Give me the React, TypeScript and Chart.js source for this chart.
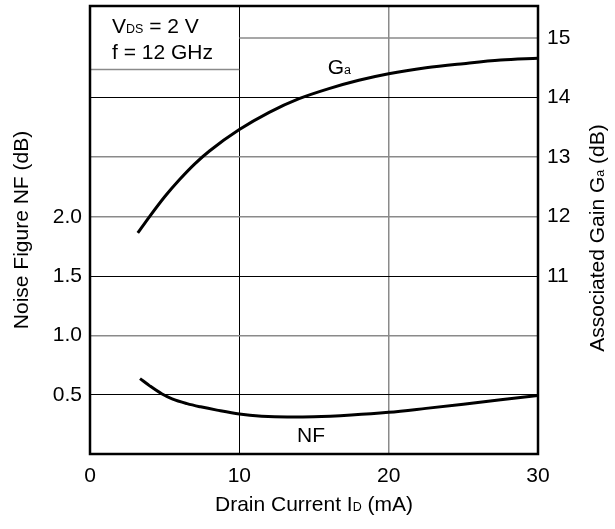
import React, { useEffect, useRef } from "react";
import { Chart, registerables } from "chart.js";
Chart.register(...registerables);

// Data
const currentGa = [3.2, 4, 5, 6, 7, 8, 10, 12, 14, 16, 18, 20, 22.5, 25, 27.5, 30];
const gainGa = [11.72, 12.0, 12.33, 12.62, 12.88, 13.1, 13.46, 13.75, 13.98, 14.15, 14.29, 14.4, 14.5, 14.57, 14.63, 14.66];
const currentNF = [3.35, 4, 4.8, 5.5, 6.5, 7.4, 8.5, 10, 11.5, 13.2, 15, 17.5, 20, 22.5, 25, 27.5, 30];
const noiseNF = [0.636, 0.575, 0.508, 0.465, 0.425, 0.398, 0.37, 0.337, 0.319, 0.312, 0.314, 0.329, 0.352, 0.385, 0.42, 0.457, 0.494];

const xTicks = [0, 10, 20, 30];
const nfTicks = [0.5, 1.0, 1.5, 2.0];
const gaTicks = [11, 12, 13, 14, 15];

const X_MIN = 0, X_MAX = 30;
const NF_MIN = 0, NF_MAX = 3.78;
const GA_MIN = 8, GA_MAX = 15.54;
const LEGEND_BOX_GA = 14.47;

const FONT = "Liberation Sans, Arial, Helvetica, sans-serif";
const MAIN = 21;
const SUB = 12.5;
const BLACK = "#000";
const GRAY = "#8a8a8a";

type Part = [string, boolean];

function drawRich(ctx: CanvasRenderingContext2D, parts: Part[], x: number, y: number, rot = 0) {
  ctx.save();
  ctx.translate(x, y);
  ctx.rotate(rot);
  ctx.textBaseline = "alphabetic";
  ctx.textAlign = "left";
  let total = 0;
  const widths = parts.map(([t, s]) => {
    ctx.font = `${s ? SUB : MAIN}px ${FONT}`;
    const w = ctx.measureText(t).width;
    total += w;
    return w;
  });
  let cx = -total / 2;
  parts.forEach(([t, s], i) => {
    ctx.font = `${s ? SUB : MAIN}px ${FONT}`;
    ctx.fillStyle = BLACK;
    ctx.fillText(t, cx, 7);
    cx += widths[i];
  });
  ctx.restore();
}

function drawRichLeft(ctx: CanvasRenderingContext2D, parts: Part[], x: number, y: number) {
  ctx.save();
  ctx.textBaseline = "alphabetic";
  ctx.textAlign = "left";
  let cx = x;
  parts.forEach(([t, s]) => {
    ctx.font = `${s ? SUB : MAIN}px ${FONT}`;
    ctx.fillStyle = BLACK;
    ctx.fillText(t, cx, y);
    cx += ctx.measureText(t).width;
  });
  ctx.restore();
}

const decor = {
  id: "decor",
  afterDatasetsDraw(chart: any) {
    const { ctx, chartArea: a, scales } = chart;
    const xs = scales.x, yl = scales.yNF, yr = scales.yGa;
    ctx.save();
    ctx.strokeStyle = GRAY;
    ctx.lineWidth = 1.5;
    const y15 = yr.getPixelForValue(15);
    ctx.beginPath();
    ctx.moveTo(xs.getPixelForValue(10), y15);
    ctx.lineTo(a.right, y15);
    ctx.stroke();
    const yb = yr.getPixelForValue(LEGEND_BOX_GA);
    ctx.beginPath();
    ctx.moveTo(a.left, yb);
    ctx.lineTo(xs.getPixelForValue(10), yb);
    ctx.stroke();
    ctx.strokeStyle = BLACK;
    ctx.lineWidth = 2.5;
    ctx.strokeRect(a.left, a.top, a.right - a.left, a.bottom - a.top);
    ctx.restore();

    drawRichLeft(ctx, [["V", false], ["DS", true], [" = 2 V", false]], a.left + 22, a.top + 27);
    drawRichLeft(ctx, [["f = 12 GHz", false]], a.left + 22, a.top + 53);
    drawRich(ctx, [["G", false], ["a", true]], xs.getPixelForValue(16.7), yr.getPixelForValue(14.45) - 4);
    drawRich(ctx, [["NF", false]], xs.getPixelForValue(14.8), yl.getPixelForValue(0.13) - 4);
    const cxm = (a.left + a.right) / 2;
    const cym = (a.top + a.bottom) / 2;
    drawRich(ctx, [["Drain Current I", false], ["D", true], [" (mA)", false]], cxm, a.bottom + 50);
    drawRich(ctx, [["Noise Figure NF (dB)", false]], 21, cym, -Math.PI / 2);
    drawRich(ctx, [["Associated Gain G", false], ["a", true], [" (dB)", false]], a.right + 59, cym + 8, -Math.PI / 2);
  },
};

function zeroPad(s: any) {
  s.paddingTop = 0;
  s.paddingBottom = 0;
  s.paddingLeft = 0;
  s.paddingRight = 0;
}

export default function App() {
  const ref = useRef<HTMLCanvasElement | null>(null);
  useEffect(() => {
    if (!ref.current) return;
    const chart = new Chart(ref.current, {
      type: "line",
      data: {
        datasets: [
          {
            label: "Ga",
            data: currentGa.map((x, i) => ({ x, y: gainGa[i] })),
            yAxisID: "yGa",
            borderColor: BLACK,
            borderWidth: 3,
            pointRadius: 0,
            cubicInterpolationMode: "monotone",
            fill: false,
          },
          {
            label: "NF",
            data: currentNF.map((x, i) => ({ x, y: noiseNF[i] })),
            yAxisID: "yNF",
            borderColor: BLACK,
            borderWidth: 3,
            pointRadius: 0,
            cubicInterpolationMode: "monotone",
            fill: false,
          },
        ],
      },
      options: {
        animation: false,
        responsive: false,
        maintainAspectRatio: false,
        layout: { padding: { top: 6, left: 0, right: 0, bottom: 0 } },
        plugins: { legend: { display: false }, tooltip: { enabled: false }, title: { display: false } },
        scales: {
          x: {
            type: "linear",
            min: X_MIN,
            max: X_MAX,
            afterBuildTicks: (s: any) => { s.ticks = xTicks.map((v) => ({ value: v })); },
            afterFit: (s: any) => { s.height = 75; zeroPad(s); },
            border: { display: false },
            grid: {
              drawTicks: false,
              lineWidth: (c: any) => (c.tick && c.tick.value === 20 ? 1.5 : 1),
              color: (c: any) => {
                const v = c.tick ? c.tick.value : null;
                if (v === 10) return BLACK;
                if (v === 20) return GRAY;
                return "rgba(0,0,0,0)";
              },
            },
            ticks: { padding: 10, color: BLACK, font: { family: FONT, size: MAIN }, callback: (v: any) => String(v), maxRotation: 0 },
          },
          yNF: {
            type: "linear",
            position: "left",
            min: NF_MIN,
            max: NF_MAX,
            afterBuildTicks: (s: any) => { s.ticks = nfTicks.map((v) => ({ value: v })); },
            afterFit: (s: any) => { s.width = 90; zeroPad(s); },
            border: { display: false },
            grid: {
              drawTicks: false,
              lineWidth: (c: any) => (c.tick && (c.tick.value === 1.0 || c.tick.value === 2.0) ? 1.5 : 1),
              color: (c: any) => {
                const v = c.tick ? c.tick.value : null;
                if (v === 0.5 || v === 1.5) return BLACK;
                return GRAY;
              },
            },
            ticks: { padding: 8, color: BLACK, font: { family: FONT, size: MAIN }, callback: (v: any) => Number(v).toFixed(1) },
          },
          yGa: {
            type: "linear",
            position: "right",
            min: GA_MIN,
            max: GA_MAX,
            afterBuildTicks: (s: any) => { s.ticks = gaTicks.map((v) => ({ value: v })); },
            afterFit: (s: any) => { s.width = 77; zeroPad(s); },
            border: { display: false },
            grid: {
              drawTicks: false,
              lineWidth: (c: any) => (c.tick && c.tick.value === 13 ? 1.5 : 1),
              color: (c: any) => {
                const v = c.tick ? c.tick.value : null;
                if (v === 13) return GRAY;
                if (v === 14) return BLACK;
                return "rgba(0,0,0,0)";
              },
            },
            ticks: { padding: 9, color: BLACK, font: { family: FONT, size: MAIN }, callback: (v: any) => String(v) },
          },
        },
      },
      plugins: [decor],
    } as any);
    return () => chart.destroy();
  }, []);
  return (
    <div style={{ position: "fixed", left: 0, top: 0, width: 615, height: 529, background: "#fff" }}>
      <canvas ref={ref} width={615} height={529} style={{ width: 615, height: 529 }} />
    </div>
  );
}
